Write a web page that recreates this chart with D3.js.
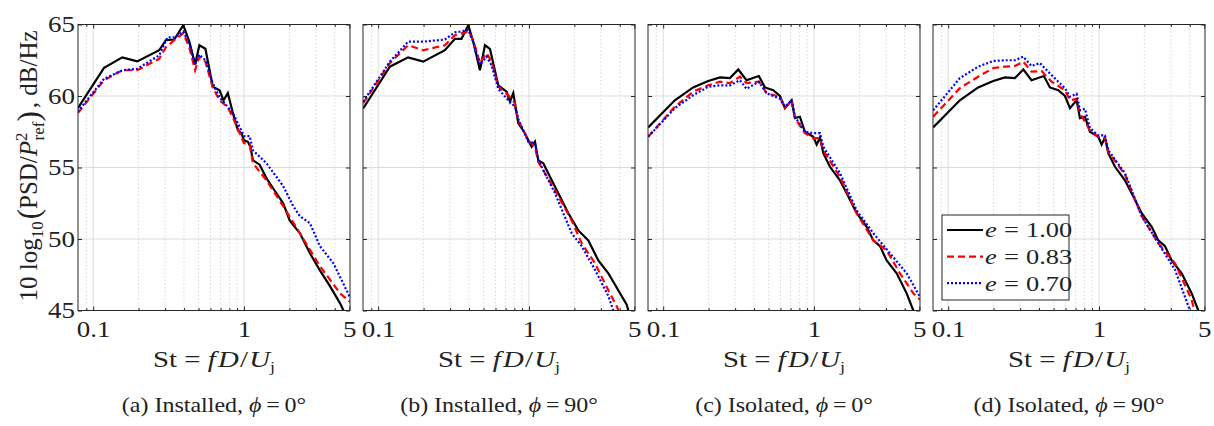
<!DOCTYPE html>
<html>
<head>
<meta charset="utf-8">
<script src="https://cdn.jsdelivr.net/npm/d3@7"></script>
<style>
  body { margin: 0; background: #fff; }
  svg text { font-family: "Liberation Serif", "Times New Roman", serif; fill: #222; }
</style>
</head>
<body>
<div id="chart"></div>
<script>
// ---- data: [St, dB/Hz] ----
const installedPhi0_e100 = [[0.079,59.13],[0.118,61.97],[0.156,62.7],[0.196,62.42],[0.274,63.2],[0.303,63.9],[0.345,63.95],[0.396,64.95],[0.434,63.8],[0.474,62.2],[0.506,63.55],[0.555,63.3],[0.621,60.65],[0.689,60.4],[0.732,59.7],[0.782,60.2],[0.845,58.8],[0.912,57.6],[0.96,57.4],[1.0,56.9],[1.063,56.8],[1.102,56.45],[1.148,55.5],[1.27,55.2],[1.41,54.25],[1.56,53.55],[1.82,52.5],[2.01,51.3],[2.35,50.4],[2.74,49.0],[3.19,47.8],[3.72,46.7],[4.34,45.5],[4.57,45.0],[5.06,44.2]];
const installedPhi0_e083 = [[0.079,58.8],[0.118,61.1],[0.156,61.8],[0.196,61.8],[0.274,62.6],[0.303,63.4],[0.345,63.9],[0.396,64.4],[0.434,63.4],[0.474,61.8],[0.506,62.75],[0.555,62.4],[0.621,60.6],[0.689,59.7],[0.782,59.2],[0.845,58.5],[1.0,56.7],[1.091,56.6],[1.148,55.3],[1.41,54.1],[1.82,52.3],[2.35,50.4],[3.19,48.1],[4.34,46.2],[5.06,45.6]];
const installedPhi0_e070 = [[0.079,58.9],[0.118,61.2],[0.156,61.8],[0.196,61.9],[0.274,62.85],[0.311,64.1],[0.345,64.1],[0.396,64.5],[0.434,63.7],[0.474,62.2],[0.506,62.9],[0.555,62.5],[0.621,60.9],[0.689,59.9],[0.743,59.5],[0.845,58.8],[1.0,57.2],[1.091,57.2],[1.148,56.2],[1.41,55.3],[1.82,53.7],[2.12,52.3],[2.35,51.6],[2.74,51.1],[3.19,49.5],[3.92,48.3],[5.06,45.9]];

const installedPhi90_e100 = [[0.0795,59.13],[0.1195,62.05],[0.158,62.7],[0.199,62.4],[0.277,63.2],[0.323,64.0],[0.357,64.0],[0.396,64.95],[0.427,63.8],[0.473,61.8],[0.511,63.55],[0.551,63.3],[0.626,60.75],[0.711,60.3],[0.748,59.6],[0.787,60.2],[0.849,58.1],[0.94,57.4],[0.99,56.9],[1.042,56.45],[1.096,56.8],[1.153,55.5],[1.245,55.3],[1.378,54.35],[1.566,53.2],[1.824,51.8],[2.125,50.6],[2.476,49.9],[2.884,48.5],[3.363,47.6],[3.92,46.4],[4.45,45.4],[4.56,45.0],[5.05,44.2]];
const installedPhi90_e083 = [[0.0795,59.5],[0.1195,62.3],[0.158,63.55],[0.199,63.2],[0.277,63.55],[0.323,64.25],[0.396,64.5],[0.427,63.9],[0.473,62.3],[0.524,63.0],[0.565,62.4],[0.626,60.65],[0.729,60.05],[0.807,59.5],[0.849,58.3],[0.99,56.9],[1.096,56.45],[1.153,55.4],[1.488,53.4],[1.92,51.3],[2.237,49.7],[2.741,48.3],[3.363,46.4],[3.82,45.3],[3.92,45.0],[4.2,44.5]];
const installedPhi90_e070 = [[0.0795,59.6],[0.1195,62.4],[0.158,63.8],[0.199,63.8],[0.277,63.95],[0.323,64.45],[0.396,64.6],[0.427,63.8],[0.473,62.2],[0.524,62.75],[0.565,62.15],[0.626,60.5],[0.729,59.7],[0.807,59.25],[0.849,58.4],[0.99,56.8],[1.096,56.7],[1.153,55.5],[1.488,53.2],[1.92,50.4],[2.237,49.5],[2.741,47.85],[3.363,46.0],[3.63,45.0],[4.0,44.3]];

// isolated round jet is the same curve in (c) and (d)
const isolated_e100 = [[0.0795,57.8],[0.1195,59.7],[0.158,60.6],[0.199,61.05],[0.238,61.3],[0.277,61.25],[0.315,61.85],[0.357,61.1],[0.431,61.4],[0.473,60.6],[0.537,60.4],[0.595,60.0],[0.642,59.15],[0.711,59.7],[0.748,58.45],[0.807,58.55],[0.871,57.5],[0.99,57.15],[1.042,56.6],[1.096,57.1],[1.153,56.0],[1.277,55.05],[1.488,54.1],[1.648,53.2],[1.92,51.8],[2.237,50.85],[2.476,49.9],[2.741,49.5],[3.035,48.5],[3.537,47.6],[4.12,46.2],[4.56,45.0],[5.05,44.0]];
const isolatedPhi0_e083 = [[0.0795,57.15],[0.1195,59.25],[0.158,60.3],[0.199,60.75],[0.238,61.0],[0.277,60.9],[0.323,61.35],[0.357,60.9],[0.431,61.0],[0.485,60.2],[0.595,59.95],[0.642,59.15],[0.711,59.7],[0.748,58.45],[0.871,57.4],[0.99,57.05],[1.096,57.05],[1.153,56.2],[1.488,54.35],[1.92,51.8],[2.476,49.9],[3.035,49.2],[3.72,47.6],[4.56,46.2],[5.05,45.75]];
const isolatedPhi0_e070 = [[0.0795,57.15],[0.1195,59.15],[0.158,60.05],[0.199,60.65],[0.238,60.75],[0.277,60.75],[0.323,61.1],[0.357,60.5],[0.431,61.0],[0.485,60.2],[0.595,59.8],[0.642,59.25],[0.711,59.7],[0.748,58.55],[0.871,57.5],[0.99,57.4],[1.096,57.4],[1.153,56.45],[1.488,54.6],[1.92,52.0],[2.476,50.4],[3.194,49.0],[4.12,47.6],[5.05,45.95]];
const isolatedPhi90_e083 = [[0.0795,58.55],[0.1195,60.55],[0.158,61.35],[0.199,61.95],[0.238,62.05],[0.277,62.1],[0.315,62.4],[0.357,61.7],[0.416,61.75],[0.485,61.0],[0.595,60.4],[0.642,59.7],[0.711,59.8],[0.748,58.8],[0.871,57.6],[0.99,57.15],[1.096,57.05],[1.153,56.1],[1.488,54.5],[1.92,51.6],[2.476,49.7],[3.194,48.3],[4.12,45.75],[4.29,45.0],[4.6,44.3]];
const isolatedPhi90_e070 = [[0.0795,59.0],[0.1195,61.25],[0.158,62.05],[0.199,62.45],[0.238,62.5],[0.277,62.5],[0.315,62.75],[0.357,62.1],[0.406,62.3],[0.461,61.7],[0.537,61.0],[0.595,60.55],[0.642,59.95],[0.711,60.15],[0.748,59.0],[0.807,59.1],[0.871,57.75],[0.99,57.25],[1.096,57.25],[1.153,56.2],[1.488,54.6],[1.92,51.6],[2.476,49.7],[3.194,47.85],[3.92,45.3],[4.02,45.0],[4.3,44.3]];

const seriesNames = ["1.00", "0.83", "0.70"];
const panelLetters = ["a", "b", "c", "d"];
const panelTitles = ["Installed", "Installed", "Isolated", "Isolated"];
const panelPhi = ["0", "90", "0", "90"];
const xTicks = [0.1, 1, 5];
const xTickLabels = ["0.1", "1", "5"];
const yTicks = [45, 50, 55, 60, 65];
const xMinor = [0.09, 0.2, 0.3, 0.4, 0.5, 0.6, 0.7, 0.8, 0.9, 2, 3, 4];

const panelData = [
  [installedPhi0_e100, installedPhi0_e083, installedPhi0_e070],
  [installedPhi90_e100, installedPhi90_e083, installedPhi90_e070],
  [isolated_e100, isolatedPhi0_e083, isolatedPhi0_e070],
  [isolated_e100, isolatedPhi90_e083, isolatedPhi90_e070]
];

const styles = [
  { color: "#000000", dash: null, width: 2.2 },
  { color: "#ff0000", dash: "7,4", width: 2.2 },
  { color: "#0000ff", dash: "2,2", width: 2.2 }
];

// ---- layout ----
const W = 1214, H = 426;
const plotW = 272, plotH = 286, plotTop = 24.5;
const lefts = [78, 363, 648, 933];
const sx = 1.2; // the figure's lettering is wide, stretch it a bit

const svg = d3.select("#chart").append("svg")
  .attr("width", W).attr("height", H);

const x = d3.scaleLog().domain([0.0793, 5.05]).range([0, plotW]);
const y = d3.scaleLinear().domain([45, 65]).range([plotH, 0]);

const line = d3.line().x(d => x(d[0])).y(d => y(d[1]));

function wideText(parent, tx, ty, size, anchor) {
  return parent.append("text")
    .attr("transform", `translate(${tx},${ty}) scale(${sx},1)`)
    .attr("text-anchor", anchor || "middle")
    .style("font-size", size + "px");
}

panelData.forEach((series, p) => {
  const g = svg.append("g").attr("transform", `translate(${lefts[p]},${plotTop})`);

  g.append("clipPath").attr("id", "clip" + p)
    .append("rect").attr("width", plotW).attr("height", plotH);

  // minor grid (dotted)
  g.selectAll(".minor").data(xMinor).enter().append("line")
    .attr("x1", d => x(d)).attr("x2", d => x(d))
    .attr("y1", 0).attr("y2", plotH)
    .attr("stroke", "#c4c4c4").attr("stroke-width", 0.8)
    .attr("stroke-dasharray", "1.2,2.5");

  // major grid
  g.selectAll(".gx").data([0.1, 1]).enter().append("line")
    .attr("x1", d => x(d)).attr("x2", d => x(d))
    .attr("y1", 0).attr("y2", plotH)
    .attr("stroke", "#dcdcdc").attr("stroke-width", 1);
  g.selectAll(".gy").data(yTicks.slice(1, -1)).enter().append("line")
    .attr("x1", 0).attr("x2", plotW)
    .attr("y1", d => y(d)).attr("y2", d => y(d))
    .attr("stroke", "#dcdcdc").attr("stroke-width", 1);

  // curves
  const lines = g.append("g").attr("clip-path", `url(#clip${p})`);
  series.forEach((data, i) => {
    lines.append("path").datum(data)
      .attr("d", line)
      .attr("fill", "none")
      .attr("stroke", styles[i].color)
      .attr("stroke-width", styles[i].width)
      .attr("stroke-linejoin", "miter")
      .attr("stroke-dasharray", styles[i].dash);
  });

  // axes, ticks pointing inward
  const xAxis = d3.axisBottom(x).tickValues(xTicks)
    .tickFormat((d, i) => xTickLabels[i]).tickSizeInner(-4).tickSizeOuter(0).tickPadding(11);
  const ax = g.append("g").attr("transform", `translate(0,${plotH})`).call(xAxis);
  const axM = g.append("g").attr("transform", `translate(0,${plotH})`)
    .call(d3.axisBottom(x).tickValues(xMinor).tickFormat("").tickSizeInner(-2.5).tickSizeOuter(0));
  const axT = g.append("g")
    .call(d3.axisTop(x).tickValues(xTicks).tickFormat("").tickSizeInner(-4).tickSizeOuter(0));
  const axTM = g.append("g")
    .call(d3.axisTop(x).tickValues(xMinor).tickFormat("").tickSizeInner(-2.5).tickSizeOuter(0));
  const yAxis = d3.axisLeft(y).tickValues(yTicks).tickSizeInner(-4).tickSizeOuter(0).tickPadding(2.5)
    .tickFormat(d => p === 0 ? d : "");
  const ay = g.append("g").call(yAxis);
  const ayR = g.append("g").attr("transform", `translate(${plotW},0)`)
    .call(d3.axisRight(y).tickValues(yTicks).tickFormat("").tickSizeInner(-4).tickSizeOuter(0));
  [ax, axM, axT, axTM, ay, ayR].forEach(a => {
    a.select(".domain").remove();
    a.selectAll("line").attr("stroke", "#262626");
    a.selectAll("text").style("font-size", "22.5px").attr("fill", "#222")
      .style("font-family", '"Liberation Serif", "Times New Roman", serif')
      .attr("transform", `scale(${sx},1)`);
  });

  // box
  g.append("rect").attr("width", plotW).attr("height", plotH)
    .attr("fill", "none").attr("stroke", "#262626").attr("stroke-width", 1);

  // x label
  const xl = wideText(g, plotW / 2, 342.5, 24);
  xl.append("tspan").text("St");
  xl.append("tspan").attr("dx", 6).text("=");
  xl.append("tspan").attr("dx", 6).attr("font-style", "italic").text("f");
  xl.append("tspan").attr("dx", 2).attr("font-style", "italic").text("D");
  xl.append("tspan").attr("dx", 1).text("/");
  xl.append("tspan").attr("dx", 1).attr("font-style", "italic").text("U");
  xl.append("tspan").attr("dy", 5).style("font-size", "15px").text("j");

  // caption
  const cap = wideText(g, plotW / 2, 387.5, 20);
  cap.append("tspan").text(`(${panelLetters[p]}) ${panelTitles[p]}, `);
  cap.append("tspan").attr("font-style", "italic").text("ϕ");
  cap.append("tspan").attr("dx", 4).text("=");
  cap.append("tspan").attr("dx", 4).text(`${panelPhi[p]}°`);

  // legend in the last panel
  if (p === 3) {
    const lg = g.append("g").attr("transform", "translate(9,190.5)");
    lg.append("rect").attr("width", 127).attr("height", 85)
      .attr("fill", "#fff").attr("stroke", "#262626").attr("stroke-width", 1);
    seriesNames.forEach((name, i) => {
      const yy = 15 + i * 26.6;
      lg.append("line").attr("x1", 5).attr("x2", 41).attr("y1", yy).attr("y2", yy)
        .attr("stroke", styles[i].color).attr("stroke-width", styles[i].width)
        .attr("stroke-dasharray", styles[i].dash);
      const t = wideText(lg, 43, yy + 7.3, 22, "start");
      t.append("tspan").attr("font-style", "italic").text("e");
      t.append("tspan").attr("dx", 6).text("=");
      t.append("tspan").attr("dx", 6).text(name);
    });
  }
});

// y label
const yl = svg.append("text")
  .attr("transform", `translate(37,166) rotate(-90)`)
  .attr("text-anchor", "middle").style("font-size", "25px");
yl.append("tspan").text("10 log");
yl.append("tspan").attr("dy", 6).style("font-size", "17px").text("10");
yl.append("tspan").attr("dy", -4).attr("dx", 2).style("font-size", "31px").text("(");
yl.append("tspan").attr("dy", -2).text("PSD/");
yl.append("tspan").attr("font-style", "italic").text("P");
yl.append("tspan").attr("dy", -10).style("font-size", "17px").text("2");
yl.append("tspan").attr("dx", -8).attr("dy", 17).style("font-size", "17px").text("ref");
yl.append("tspan").attr("dy", -5).style("font-size", "31px").text(")");
yl.append("tspan").attr("dy", -2).attr("dx", 3).text(", dB/Hz");
</script>
</body>
</html>
